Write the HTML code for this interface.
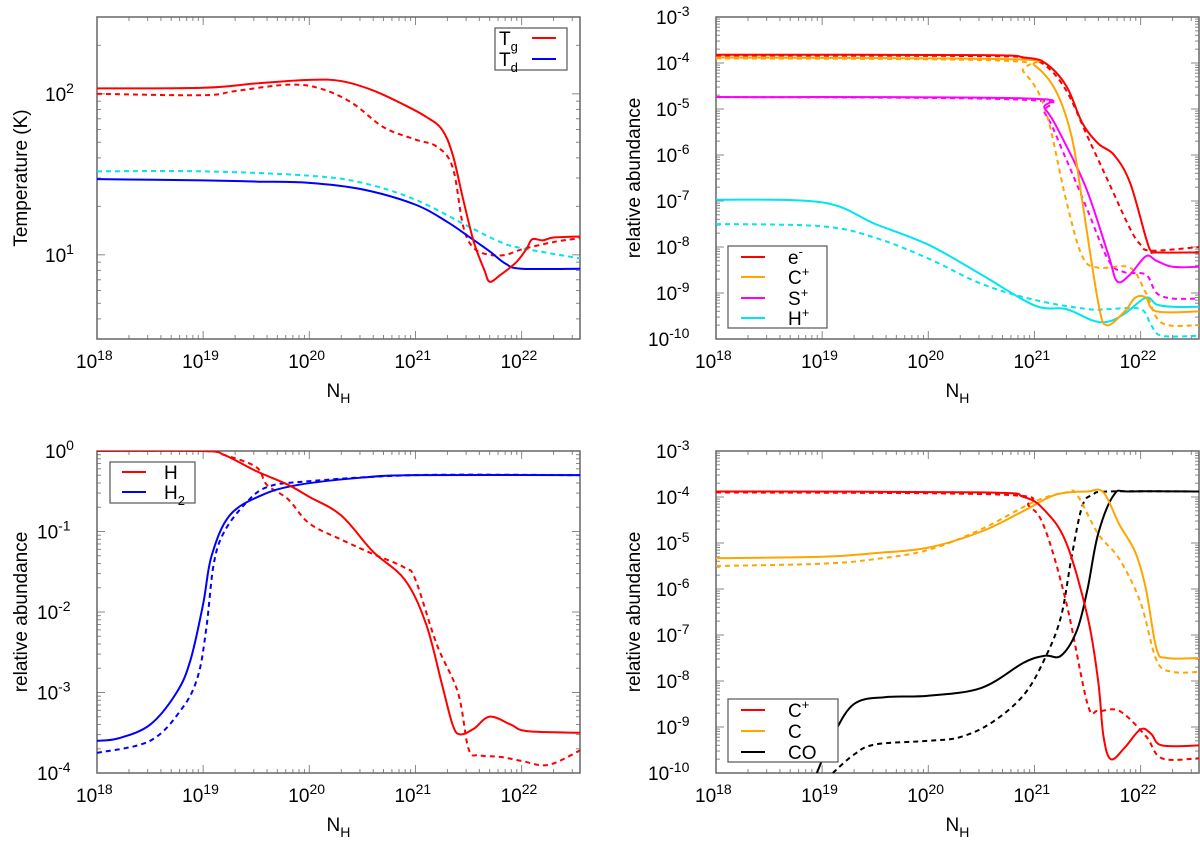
<!DOCTYPE html>
<html><head><meta charset="utf-8"><style>
body{margin:0;background:#fff}
svg{font-family:"Liberation Sans",sans-serif;display:block}
</style></head><body>
<svg id="chart" width="1200" height="841" xmlns="http://www.w3.org/2000/svg"></svg>
<script>
// ===== Data (x = log10 N_H) =====
// Panel 1: temperature (K)
const tgSolidX=[18,19,19.5,20,20.3,20.6,20.9,21.1,21.25,21.35,21.45,21.55,21.65,21.7,21.8,21.95,22.05,22.1,22.2,22.3,22.55];
const tgSolidY=[108,109,116,122,120,105,85,72,60,42,22,12,8,6.8,7.5,9,11,12.5,12.3,12.8,13];
const tgDashX=[18,19,19.3,19.8,20.1,20.4,20.7,21,21.2,21.35,21.45,21.55,21.7,21.85,22,22.3,22.55];
const tgDashY=[100,98,104,114,108,88,62,52,47,35,15,11,10,10,10.8,12,12.7];
const tdSolidX=[18,19,19.5,20,20.5,21,21.3,21.5,21.7,21.85,22,22.55];
const tdSolidY=[29.5,29,28.5,28,25.5,20.5,16,13,10.5,8.8,8.2,8.2];
const tdDashX=[18,19,20,20.5,21,21.5,21.8,22,22.55];
const tdDashY=[33,33,31,28,22,15,12,11,9.5];
// Panel 2: log10 abundance
const eSolidX=[18,20.5,20.9,21.1,21.3,21.45,21.6,21.75,21.9,22.05,22.1,22.15,22.55];
const eSolidY=[-3.82,-3.83,-3.88,-4.0,-4.5,-5.3,-5.75,-6.0,-6.6,-7.8,-8.1,-8.12,-8.12];
const eDashX=[18,20.5,20.9,21.1,21.3,21.5,21.7,21.9,22.0,22.1,22.55];
const eDashY=[-3.84,-3.85,-3.9,-4.05,-4.6,-5.6,-6.6,-7.6,-7.95,-8.08,-8.0];
const cpSolidX=[18,20.8,21.0,21.2,21.35,21.45,21.6,21.68,21.85,21.95,22.05,22.15,22.55];
const cpSolidY=[-3.88,-3.92,-4.05,-4.6,-5.6,-7.0,-9.2,-9.7,-9.4,-9.1,-9.1,-9.4,-9.4];
const cpDashX=[18,20.7,20.9,21.1,21.3,21.45,21.6,21.9,22.05,22.2,22.55];
const cpDashY=[-3.9,-3.95,-4.2,-5.0,-7.0,-8.2,-8.45,-8.45,-9.0,-9.65,-9.7];
const spSolidX=[18,20.9,21.1,21.3,21.5,21.7,21.78,21.9,22.05,22.15,22.3,22.55];
const spSolidY=[-4.74,-4.77,-5.0,-5.8,-6.8,-8.2,-8.75,-8.6,-8.2,-8.3,-8.43,-8.43];
const spDashX=[18,20.9,21.1,21.3,21.5,21.7,21.85,22.05,22.15,22.3,22.55];
const spDashY=[-4.74,-4.8,-5.1,-6.1,-7.2,-8.3,-8.55,-8.6,-9.0,-9.12,-9.12];
const hpSolidX=[18,19,19.5,20,20.5,21,21.3,21.55,21.7,21.85,22.05,22.15,22.3,22.55];
const hpSolidY=[-6.97,-7.03,-7.5,-7.95,-8.6,-9.27,-9.35,-9.6,-9.62,-9.45,-9.1,-9.25,-9.3,-9.3];
const hpDashX=[18,19,19.5,20,20.5,21,21.5,21.7,22.0,22.1,22.2,22.55];
const hpDashY=[-7.5,-7.55,-7.8,-8.25,-8.8,-9.15,-9.35,-9.35,-9.35,-9.7,-9.93,-9.93];
// Panel 3
const hSolidX=[18,19,19.2,19.5,19.8,20,20.3,20.6,20.9,21.1,21.25,21.35,21.42,21.55,21.7,21.9,22.05,22.55];
const hSolidY=[0,0,-0.05,-0.25,-0.42,-0.57,-0.8,-1.25,-1.6,-2.15,-2.9,-3.4,-3.52,-3.45,-3.3,-3.4,-3.48,-3.5];
const hDashX=[18,19,19.2,19.5,19.6,19.8,20,20.3,20.6,20.9,21.0,21.2,21.4,21.5,21.6,21.8,22,22.25,22.55];
const hDashY=[0,0,-0.05,-0.2,-0.42,-0.6,-0.9,-1.1,-1.28,-1.45,-1.6,-2.4,-3.0,-3.7,-3.78,-3.8,-3.85,-3.9,-3.72];
const h2SolidX=[18,18.2,18.5,18.75,18.88,19.0,19.08,19.25,19.55,19.9,20.5,21,22.55];
const h2SolidY=[-3.6,-3.57,-3.4,-3.0,-2.6,-1.9,-1.3,-0.8,-0.55,-0.42,-0.33,-0.3,-0.3];
const h2DashX=[18,18.5,18.8,18.95,19.03,19.1,19.2,19.4,19.6,19.95,21,22.55];
const h2DashY=[-3.75,-3.6,-3.2,-2.8,-2.2,-1.4,-1.0,-0.65,-0.45,-0.38,-0.3,-0.3];
// Panel 4
const c4pSolidX=[18,20.5,20.9,21.1,21.3,21.5,21.6,21.65,21.72,21.85,22,22.1,22.2,22.55];
const c4pSolidY=[-3.88,-3.9,-4.0,-4.3,-5.0,-6.6,-8.0,-9.2,-9.7,-9.45,-9.05,-9.15,-9.4,-9.4];
const c4pDashX=[18,20.7,20.95,21.1,21.3,21.5,21.6,21.8,22.05,22.2,22.55];
const c4pDashY=[-3.9,-3.95,-4.2,-4.7,-6.3,-8.5,-8.65,-8.65,-9.2,-9.68,-9.68];
const cSolidX=[18,19,19.5,20,20.5,20.9,21.2,21.5,21.65,21.8,21.95,22.05,22.15,22.25,22.55];
const cSolidY=[-5.33,-5.3,-5.22,-5.1,-4.75,-4.3,-3.95,-3.88,-3.9,-4.6,-5.2,-6.0,-7.3,-7.5,-7.5];
const cDashX=[18,19,19.5,20,20.5,21,21.3,21.4,21.6,21.8,22,22.15,22.3,22.55];
const cDashY=[-5.5,-5.45,-5.35,-5.15,-4.7,-4.1,-3.9,-3.95,-4.8,-5.35,-6.3,-7.55,-7.8,-7.8];
const coSolidX=[18.95,19.1,19.3,19.6,20,20.5,20.9,21.1,21.25,21.4,21.5,21.6,21.75,21.9,22.55];
const coSolidY=[-10,-9.2,-8.5,-8.35,-8.32,-8.15,-7.6,-7.45,-7.45,-6.9,-6.0,-4.8,-3.95,-3.88,-3.88];
const coDashX=[19.1,19.3,19.5,20,20.3,20.6,20.9,21.1,21.25,21.35,21.45,21.55,21.7,22.55];
const coDashY=[-10,-9.6,-9.38,-9.3,-9.22,-8.9,-8.3,-7.5,-6.6,-5.3,-4.2,-3.95,-3.88,-3.88];
const xTickLabels=["18","19","20","21","22"];

const NS="http://www.w3.org/2000/svg";
const svg=document.getElementById('chart');
function mk(tag,attrs,parent){const e=document.createElementNS(NS,tag);for(const k in attrs)e.setAttribute(k,attrs[k]);(parent||svg).appendChild(e);return e;}
const X0=18,X1=22.55;
function panel(id,L,T,R,B,ymin,ymax,yLabel,titleX){
  const g=mk('g',{});
  
  
  const sx=v=>L+(v-X0)/(X1-X0)*(R-L);
  const sy=v=>B-(v-ymin)/(ymax-ymin)*(B-T);
  const cp=mk('clipPath',{id:'clip-'+id},g);
  mk('rect',{x:L,y:T,width:R-L,height:B-T},cp);
  for(let d=18;d<=22;d++){
    for(let m=1;m<10;m++){
      const v=d+Math.log10(m); if(v>X1)break;
      const len=m==1?8:4, x=sx(v);
      mk('line',{x1:x,y1:B,x2:x,y2:B-len,stroke:'#888','stroke-width':1},g);
      mk('line',{x1:x,y1:T,x2:x,y2:T+len,stroke:'#888','stroke-width':1},g);
    }
  }
  xTickLabels.forEach((t,i)=>{
    const x=sx(18+i);
    const tx=mk('text',{x:x-21,y:B+29,'font-size':19,fill:'#000'},g);
    
    
    tx.textContent='10';
    const s=mk('tspan',{dy:-8,'font-size':14},tx);s.textContent=t;
  });
  for(let d=Math.floor(ymin);d<=Math.ceil(ymax);d++){
    for(let m=1;m<10;m++){
      const v=d+Math.log10(m); if(v<ymin-1e-6||v>ymax+1e-6)continue;
      const len=m==1?8:4, y=sy(v);
      mk('line',{x1:L,y1:y,x2:L+len,y2:y,stroke:'#888','stroke-width':1},g);
      mk('line',{x1:R,y1:y,x2:R-len,y2:y,stroke:'#888','stroke-width':1},g);
    }
    if(d>=ymin-1e-6&&d<=ymax+1e-6){
      const ds=String(d);
      const tx=mk('text',{x:L-24-(ds.length*8)-20,y:sy(d)+7,'font-size':19,fill:'#000'},g);
      
      
      tx.textContent='10';
      const s=mk('tspan',{dy:-8,'font-size':14},tx);s.textContent=ds;
    }
  }
  mk('rect',{x:L,y:T,width:R-L,height:B-T,fill:'none',stroke:'#666','stroke-width':1.5},g);
  const xl=mk('text',{x:(L+R)/2-12,y:B+58,'font-size':19,fill:'#000'},g);
  
  
  xl.textContent='N';const s2=mk('tspan',{dy:6,'font-size':14},xl);s2.textContent='H';
  const yl=mk('text',{x:0,y:0,'font-size':19,fill:'#000','text-anchor':'middle',transform:`translate(${titleX},${(T+B)/2}) rotate(-90)`},g);
  
  
  yl.textContent=yLabel;
  const plot=mk('g',{'clip-path':`url(#clip-${id})`},g);
  return {g,plot,sx,sy};
}
function path(P,xs,ys,color,dashed,name,logvals){
  const pts=xs.map((x,i)=>[P.sx(x),P.sy(logvals?Math.log10(ys[i]):ys[i])]);
  let d=`M${pts[0][0]},${pts[0][1]}`;
  for(let i=0;i<pts.length-1;i++){
    const p0=pts[Math.max(0,i-1)],p1=pts[i],p2=pts[i+1],p3=pts[Math.min(pts.length-1,i+2)];
    const t=0.17;
    d+=` C${p1[0]+(p2[0]-p0[0])*t},${p1[1]+(p2[1]-p0[1])*t} ${p2[0]-(p3[0]-p1[0])*t},${p2[1]-(p3[1]-p1[1])*t} ${p2[0]},${p2[1]}`;
  }
  const e=mk('path',{d,fill:'none',stroke:color,'stroke-width':2,'stroke-dasharray':dashed?'5,4':'none'},P.plot);
  
  
}
function legend(name,x,y,w,h,items){
  const g=mk('g',{});
  
  
  mk('rect',{x,y,width:w,height:h,fill:'#fff',stroke:'#555','stroke-width':1.2},g);
  items.forEach(it=>{
    mk('line',{x1:it.lx1,y1:it.y,x2:it.lx2,y2:it.y,stroke:it.c,'stroke-width':2},g);
    const t=mk('text',{x:it.tx,y:it.y+7,'font-size':19,fill:'#000'},g);
    
    
    t.textContent=it.t;
    if(it.sup){const s=mk('tspan',{dy:-8,'font-size':13},t);s.textContent=it.sup;}
    if(it.sub){const s=mk('tspan',{dy:6,'font-size':13},t);s.textContent=it.sub;}
  });
}
// Panel 1
const P1=panel('temperature-panel',97,17,580,339,Math.log10(3.0),Math.log10(300),'Temperature (K)',27);
path(P1,tdDashX,tdDashY,'#00e5ee',true,'td-dashed',true);
path(P1,tgDashX,tgDashY,'#f00',true,'tg-dashed',true);
path(P1,tdSolidX,tdSolidY,'#0000ff',false,'td-solid',true);
path(P1,tgSolidX,tgSolidY,'#f00',false,'tg-solid',true);
legend('legend-temperature',495,28,72,42,[
 {t:'T',sub:'g',y:38,tx:499,lx1:532,lx2:556,c:'#f00'},
 {t:'T',sub:'d',y:59,tx:499,lx1:532,lx2:556,c:'#00f'}]);
// Panel 2
const P2=panel('ions-panel',716,17,1199,339,-10,-3,'relative abundance',640);
path(P2,hpDashX,hpDashY,'#00e5ee',true,'hplus-dashed');
path(P2,spDashX,spDashY,'#f0f',true,'splus-dashed');
path(P2,cpDashX,cpDashY,'#ffa500',true,'cplus-dashed');
path(P2,eDashX,eDashY,'#f00',true,'electron-dashed');
path(P2,hpSolidX,hpSolidY,'#00e5ee',false,'hplus-solid');
path(P2,spSolidX,spSolidY,'#f0f',false,'splus-solid');
path(P2,cpSolidX,cpSolidY,'#ffa500',false,'cplus-solid');
path(P2,eSolidX,eSolidY,'#f00',false,'electron-solid');
legend('legend-ions',728,246,99,82,[
 {t:'e',sup:'-',y:257,tx:788,lx1:741,lx2:765,c:'#f00'},
 {t:'C',sup:'+',y:277,tx:788,lx1:741,lx2:765,c:'#ffa500'},
 {t:'S',sup:'+',y:298,tx:788,lx1:741,lx2:765,c:'#f0f'},
 {t:'H',sup:'+',y:318,tx:788,lx1:741,lx2:765,c:'#00e5ee'}]);
// Panel 3
const P3=panel('hydrogen-panel',97,451,580,773,-4,0,'relative abundance',27);
path(P3,h2DashX,h2DashY,'#00f',true,'h2-dashed');
path(P3,hDashX,hDashY,'#f00',true,'h-dashed');
path(P3,h2SolidX,h2SolidY,'#00f',false,'h2-solid');
path(P3,hSolidX,hSolidY,'#f00',false,'h-solid');
legend('legend-hydrogen',110,462,85,41,[
 {t:'H',y:472,tx:164,lx1:122,lx2:146,c:'#f00'},
 {t:'H',sub:'2',y:492,tx:164,lx1:122,lx2:146,c:'#00f'}]);
// Panel 4
const P4=panel('carbon-panel',716,451,1199,773,-10,-3,'relative abundance',640);
path(P4,coDashX,coDashY,'#000',true,'co-dashed');
path(P4,cDashX,cDashY,'#ffa500',true,'c-dashed');
path(P4,c4pDashX,c4pDashY,'#f00',true,'cplus-dashed');
path(P4,coSolidX,coSolidY,'#000',false,'co-solid');
path(P4,cSolidX,cSolidY,'#ffa500',false,'c-solid');
path(P4,c4pSolidX,c4pSolidY,'#f00',false,'cplus-solid');
legend('legend-carbon',728,699,110,63,[
 {t:'C',sup:'+',y:710,tx:788,lx1:741,lx2:765,c:'#f00'},
 {t:'C',y:731,tx:788,lx1:741,lx2:765,c:'#ffa500'},
 {t:'CO',y:752,tx:788,lx1:741,lx2:765,c:'#000'}]);
</script>
</body></html>
